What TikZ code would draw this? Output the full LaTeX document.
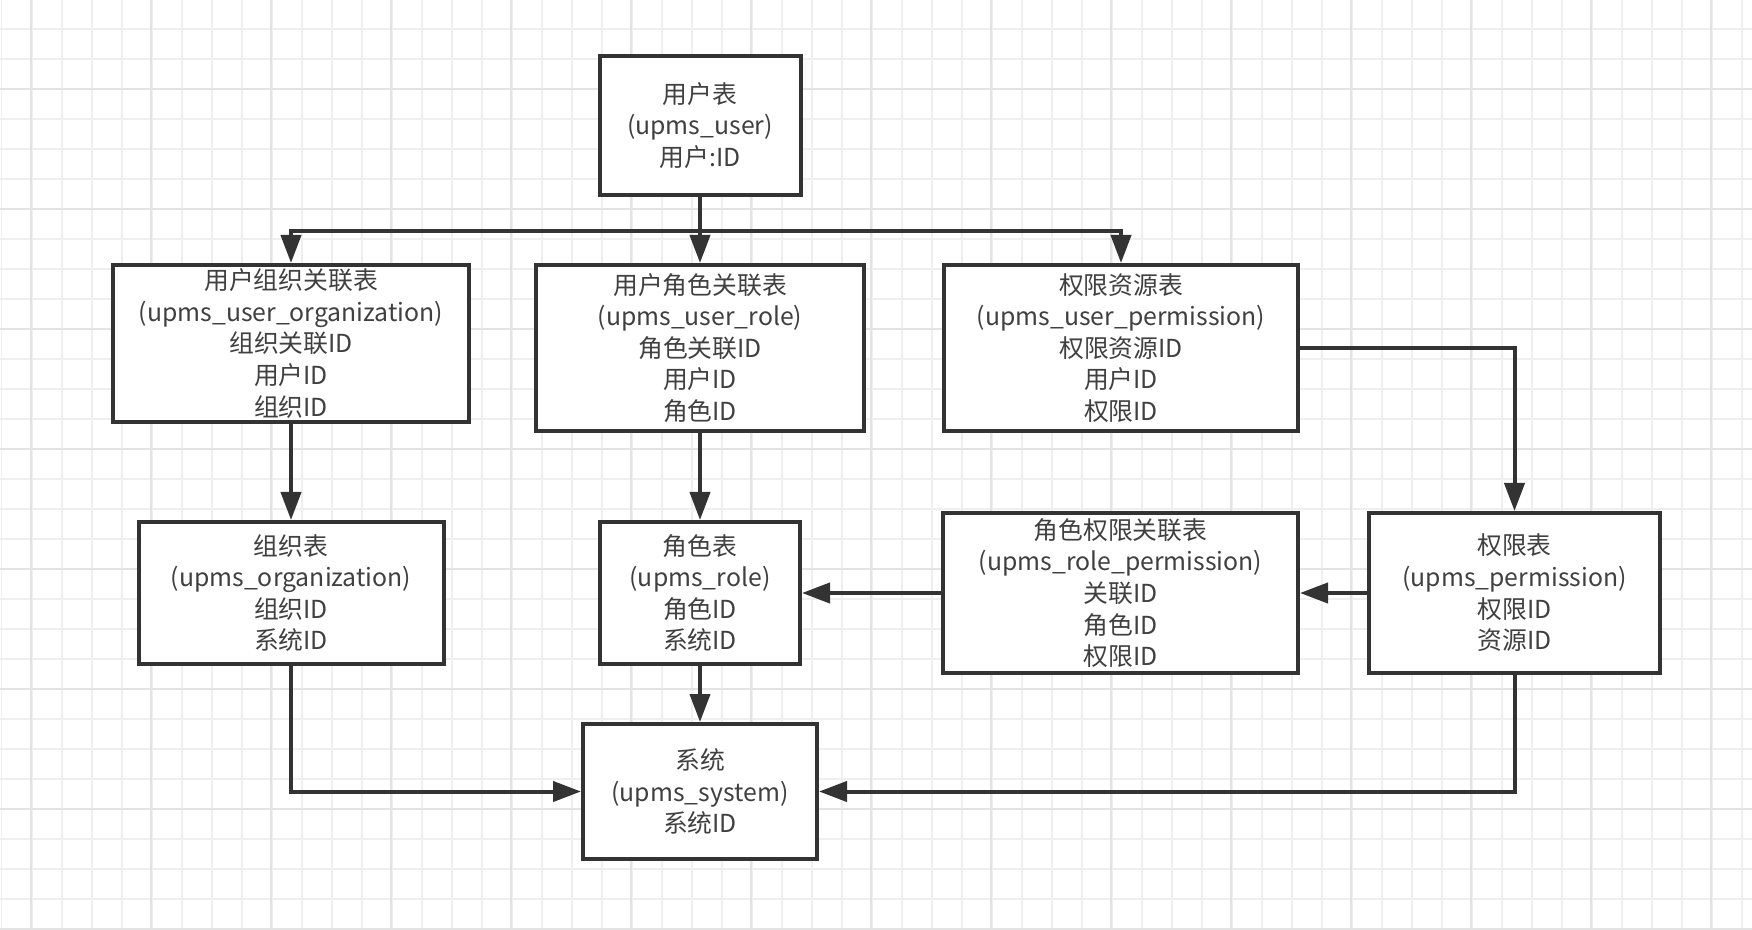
\documentclass[tikz,border=0pt]{standalone}
\usepackage{fontspec}
\setmainfont{Noto Sans CJK SC}
\usetikzlibrary{arrows.meta}
\definecolor{ink}{HTML}{333333}
\definecolor{txt}{HTML}{404040}
\definecolor{gridminor}{HTML}{EFEFEF}
\definecolor{gridmajor}{HTML}{E3E3E3}
\begin{document}
\begin{tikzpicture}[x=0.5pt,y=-0.5pt,
  tbl/.style={draw=ink, line width=2pt, fill=white, inner sep=0pt, align=center,
    text=txt, font=\fontsize{12.4}{15.8}\selectfont},
  arr/.style={draw=ink, line width=2pt, -{Triangle[length=14pt,width=10pt]}},
]
\useasboundingbox (0,0) rectangle (1752,930);
\fill[white] (0,0) rectangle (1752,930);
% grid
\foreach \i in {0,...,58} {\draw[gridminor, line width=0.8pt] ({1.7+30*\i},0) -- ({1.7+30*\i},930);}
\foreach \i in {0,...,31} {\draw[gridminor, line width=0.8pt] (0,{29+30*\i}) -- (1752,{29+30*\i});}
\foreach \i in {0,...,14} {\draw[gridmajor, line width=0.9pt] ({31+120*\i},0) -- ({31+120*\i},930);}
\foreach \i in {0,...,7} {\draw[gridmajor, line width=0.9pt] (0,{89+120*\i}) -- (1752,{89+120*\i});}

% nodes
\node[tbl, minimum width=100.5pt, minimum height=69.5pt] (user) at (700,125.5) {用户表\\(upms\_user)\\用户:ID};
\node[tbl, minimum width=178pt, minimum height=78.5pt] (uorg) at (291,343.5) {用户组织关联表\\(upms\_user\_organization)\\组织关联ID\\用户ID\\组织ID};
\node[tbl, minimum width=164pt, minimum height=83pt] (urole) at (700,348) {用户角色关联表\\(upms\_user\_role)\\角色关联ID\\用户ID\\角色ID};
\node[tbl, minimum width=177pt, minimum height=83pt] (uperm) at (1121,348) {权限资源表\\(upms\_user\_permission)\\权限资源ID\\用户ID\\权限ID};
\node[tbl, minimum width=152.5pt, minimum height=71pt] (org) at (291,593) {组织表\\(upms\_organization)\\组织ID\\系统ID};
\node[tbl, minimum width=100pt, minimum height=71pt] (role) at (700,593) {角色表\\(upms\_role)\\角色ID\\系统ID};
\node[tbl, minimum width=177.5pt, minimum height=79.5pt] (rperm) at (1120.5,593) {角色权限关联表\\(upms\_role\_permission)\\关联ID\\角色ID\\权限ID};
\node[tbl, minimum width=145.5pt, minimum height=80pt] (perm) at (1514.5,593) {权限表\\(upms\_permission)\\权限ID\\资源ID};
\node[tbl, minimum width=117pt, minimum height=67.5pt] (sys) at (700,791.5) {系统\\(upms\_system)\\系统ID};

\coordinate (bus) at (700,231);

% connectors
\draw[arr] (user.south) -- (urole.north);
\draw[arr] (bus) -| (uorg.north);
\draw[arr] (bus) -| (uperm.north);
\draw[arr] (uorg.south) -- (org.north);
\draw[arr] (urole.south) -- (role.north);
\draw[arr] (uperm.east) -| (perm.north);
\draw[arr] (perm.west) -- (rperm.east);
\draw[arr] (rperm.west) -- (role.east);
\draw[arr] (role.south) -- (sys.north);
\draw[arr] (org.south) |- (sys.west);
\draw[arr] (perm.south) |- (sys.east);
\end{tikzpicture}
\end{document}
